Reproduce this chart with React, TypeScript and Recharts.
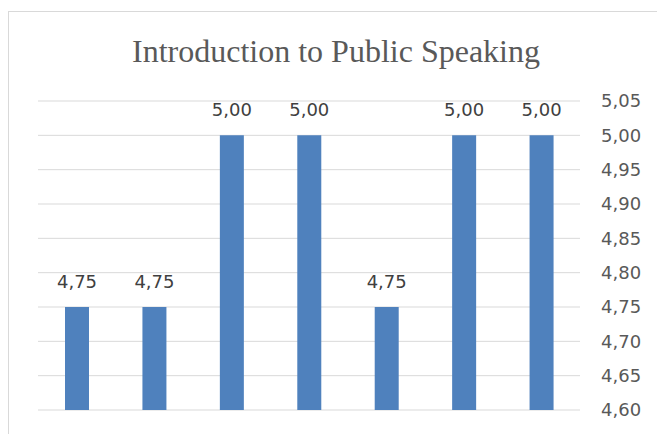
import React from 'react';
import { BarChart, Bar, XAxis, YAxis, CartesianGrid, LabelList } from 'recharts';

const categories = ['1', '2', '3', '4', '5', '6', '7'];
const values = [4.75, 4.75, 5.0, 5.0, 4.75, 5.0, 5.0];
const yTicks = [4.6, 4.65, 4.7, 4.75, 4.8, 4.85, 4.9, 4.95, 5.0, 5.05];
const title = 'Introduction to Public Speaking';

const data = categories.map((c, i) => ({ name: c, value: values[i] }));
const fmt = (v: number) => v.toFixed(2).replace('.', ',');

export default function App() {
  return (
    <div style={{ position: 'absolute', left: 0, top: 0, width: 657, height: 434, background: '#fff', overflow: 'hidden' }}>
      <div style={{ position: 'absolute', left: 8, top: 11, width: 660, height: 460, border: '1px solid #d9d9d9', boxSizing: 'border-box' }} />
      <div style={{ position: 'absolute', left: 0, width: 672, top: 33, textAlign: 'center', fontFamily: '"Liberation Serif", serif', fontSize: 32, color: '#595959', lineHeight: '36px' }}>{title}</div>
      <div style={{ position: 'absolute', left: 0, top: 0 }}>
        <BarChart width={657} height={434} data={data} margin={{ top: 101, bottom: 24, left: 38, right: 0 }}>
          <CartesianGrid vertical={false} stroke="#d9d9d9" strokeWidth={1} />
          <XAxis dataKey="name" hide />
          <YAxis
            orientation="right"
            width={77}
            domain={[4.6, 5.05]}
            ticks={yTicks}
            allowDataOverflow
            axisLine={false}
            tickLine={false}
            tickMargin={15}
            tickFormatter={fmt}
            tick={{ fill: '#595959', fontSize: 18, fontFamily: '"DejaVu Sans", sans-serif' }}
          />
          <Bar dataKey="value" fill="#4f81bd" barSize={24} isAnimationActive={false}>
            <LabelList dataKey="value" position="top" offset={19} formatter={(v: any) => fmt(Number(v))} fill="#404040" fontSize={18} fontFamily='"DejaVu Sans", sans-serif' />
          </Bar>
        </BarChart>
      </div>
    </div>
  );
}
